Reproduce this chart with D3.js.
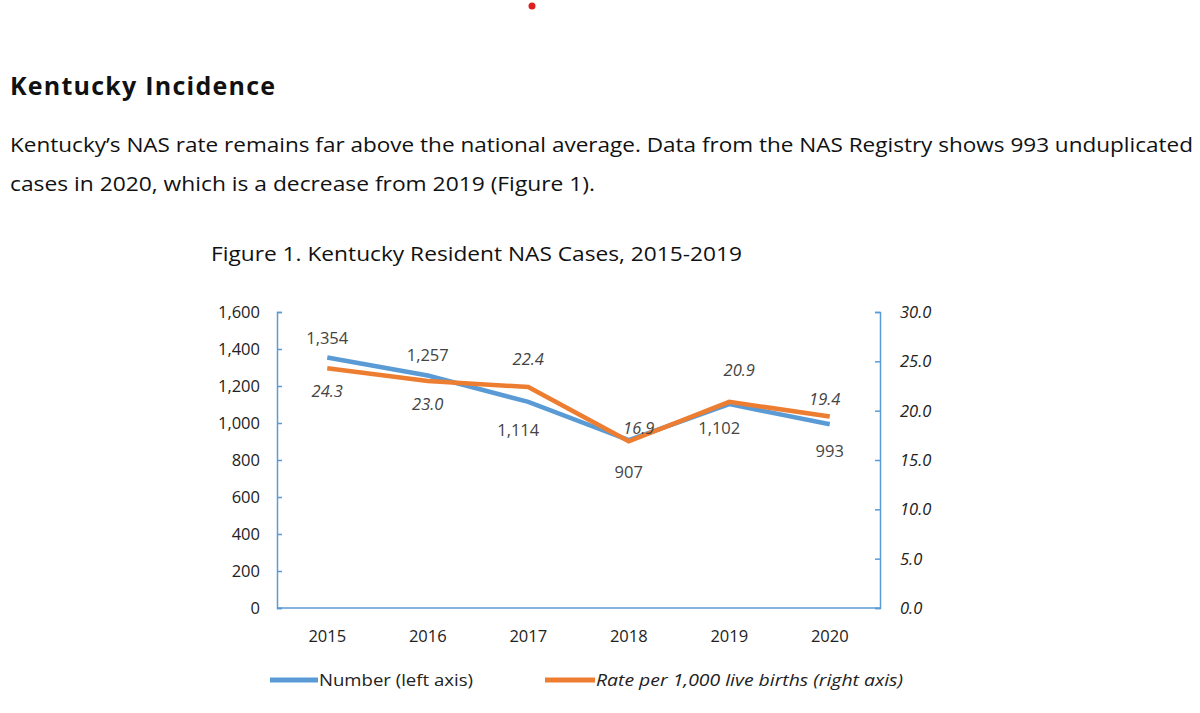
<!DOCTYPE html><html><head><meta charset="utf-8"><script src="https://d3js.org/d3.v7.min.js"></script>
<style>body{margin:0;background:#fff}</style></head><body><svg id="c" width="1200" height="713"></svg>
<script>
const years=["2015","2016","2017","2018","2019","2020"];
const numbers=[1354,1257,1114,907,1102,993];
const rates=[24.3,23.0,22.4,16.9,20.9,19.4];
const leftTicks=[0,200,400,600,800,1000,1200,1400,1600];
const rightTicks=[0,5,10,15,20,25,30];
const svg=d3.select("#c");
const F="'Open Sans', 'Noto Sans', sans-serif";
svg.append("circle").attr("cx",532).attr("cy",6).attr("r",3.5).attr("fill","#e02020");
svg.append("text").attr("x",10).attr("y",95).attr("font-family",F).attr("font-weight","bold").attr("font-size",25).attr("fill","#111").attr("textLength",265).text("Kentucky Incidence");
svg.append("text").attr("x",10).attr("y",152).attr("font-family",F).attr("font-size",20).attr("fill","#111").attr("textLength",1183).attr("lengthAdjust","spacingAndGlyphs").text("Kentucky’s NAS rate remains far above the national average. Data from the NAS Registry shows 993 unduplicated");
svg.append("text").attr("x",10).attr("y",191).attr("font-family",F).attr("font-size",20).attr("fill","#111").attr("textLength",585).attr("lengthAdjust","spacingAndGlyphs").text("cases in 2020, which is a decrease from 2019 (Figure 1).");
svg.append("text").attr("x",211).attr("y",261).attr("font-family",F).attr("font-size",20).attr("fill","#111").attr("textLength",531).attr("lengthAdjust","spacingAndGlyphs").text("Figure 1. Kentucky Resident NAS Cases, 2015-2019");
const L=277,R=880,T=312,B=608;
const x=d3.scaleBand().domain(years).range([L,R]);
const yl=d3.scaleLinear().domain([0,1600]).range([B,T]);
const yr=d3.scaleLinear().domain([0,30]).range([B,T]);
const ax="#5b9bd5";
const la=svg.append("g").attr("transform",`translate(${L},0)`).call(d3.axisRight(yl).tickValues(leftTicks).tickSize(5).tickFormat(""));
const ra=svg.append("g").attr("transform",`translate(${R},0)`).call(d3.axisLeft(yr).tickValues(rightTicks).tickSize(5).tickFormat(""));
[la,ra].forEach(g=>{g.selectAll("path,line").attr("stroke",ax).attr("stroke-width",1.5);});
svg.append("line").attr("x1",L).attr("x2",R).attr("y1",B).attr("y2",B).attr("stroke",ax).attr("stroke-width",1.5);
const fs=16.5;
leftTicks.forEach(v=>svg.append("text").attr("x",L-17).attr("y",yl(v)+6).attr("text-anchor","end").attr("font-family",F).attr("font-size",fs).attr("fill","#222").text(d3.format(",")(v)));
rightTicks.forEach(v=>svg.append("text").attr("x",R+20).attr("y",yr(v)+6).attr("font-family",F).attr("font-style","italic").attr("font-size",fs).attr("fill","#222").text(v.toFixed(1)));
years.forEach(y=>svg.append("text").attr("x",x(y)+x.bandwidth()/2).attr("y",642).attr("text-anchor","middle").attr("font-family",F).attr("font-size",fs).attr("fill","#222").text(y));
const cx=d=>x(d)+x.bandwidth()/2;
svg.append("path").attr("d",d3.line().x((d,i)=>cx(years[i])).y(d=>yl(d))(numbers)).attr("fill","none").attr("stroke",ax).attr("stroke-width",4.5);
svg.append("path").attr("d",d3.line().x((d,i)=>cx(years[i])).y(d=>yr(d))(rates)).attr("fill","none").attr("stroke","#ed7d31").attr("stroke-width",4.5);
const nOff=[-14,-14,34,38,30,33], nDx=[0,0,-10,0,-10,0];
numbers.forEach((v,i)=>svg.append("text").attr("x",cx(years[i])+nDx[i]).attr("y",yl(v)+nOff[i]).attr("text-anchor","middle").attr("font-family",F).attr("font-size",fs).attr("fill","#444").text(d3.format(",")(v)));
const rOff=[29,29,-22,-7,-26,-12], rDx=[0,0,0,10,10,-5];
rates.forEach((v,i)=>svg.append("text").attr("x",cx(years[i])+rDx[i]).attr("y",yr(v)+rOff[i]).attr("text-anchor","middle").attr("font-family",F).attr("font-style","italic").attr("font-size",fs).attr("fill","#444").text(v.toFixed(1)));
svg.append("line").attr("x1",270).attr("x2",318).attr("y1",680).attr("y2",680).attr("stroke",ax).attr("stroke-width",5);
svg.append("text").attr("x",319).attr("y",686).attr("font-family",F).attr("font-size",fs).attr("fill","#222").attr("textLength",154).attr("lengthAdjust","spacingAndGlyphs").text("Number (left axis)");
svg.append("line").attr("x1",545).attr("x2",595).attr("y1",680).attr("y2",680).attr("stroke","#ed7d31").attr("stroke-width",5);
svg.append("text").attr("x",596).attr("y",686).attr("font-family",F).attr("font-style","italic").attr("font-size",fs).attr("fill","#222").attr("textLength",307).attr("lengthAdjust","spacingAndGlyphs").text("Rate per 1,000 live births (right axis)");
</script></body></html>
